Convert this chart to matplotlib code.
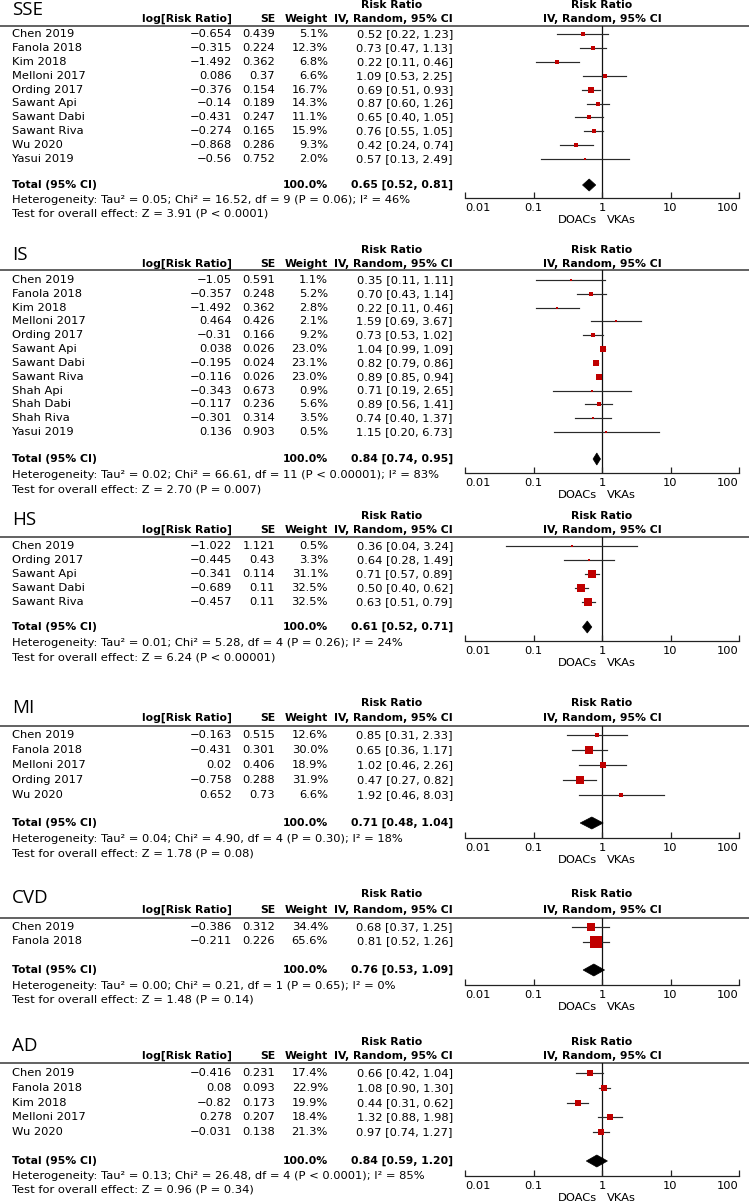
import matplotlib
matplotlib.use("Agg")
import matplotlib.pyplot as plt
from matplotlib.patches import Polygon

W, H, DPI = 749, 1203, 100

# ---------------- data ----------------
sse_names = ["Chen 2019", "Fanola 2018", "Kim 2018", "Melloni 2017", "Ording 2017",
             "Sawant Api", "Sawant Dabi", "Sawant Riva", "Wu 2020", "Yasui 2019"]
sse_logrr = [-0.654, -0.315, -1.492, 0.086, -0.376, -0.14, -0.431, -0.274, -0.868, -0.56]
sse_se = [0.439, 0.224, 0.362, 0.37, 0.154, 0.189, 0.247, 0.165, 0.286, 0.752]
sse_weight = [5.1, 12.3, 6.8, 6.6, 16.7, 14.3, 11.1, 15.9, 9.3, 2.0]
sse_rr = [0.52, 0.73, 0.22, 1.09, 0.69, 0.87, 0.65, 0.76, 0.42, 0.57]
sse_lo = [0.22, 0.47, 0.11, 0.53, 0.51, 0.60, 0.40, 0.55, 0.24, 0.13]
sse_hi = [1.23, 1.13, 0.46, 2.25, 0.93, 1.26, 1.05, 1.05, 0.74, 2.49]
sse_total = [0.65, 0.52, 0.81]
sse_het = "Heterogeneity: Tau² = 0.05; Chi² = 16.52, df = 9 (P = 0.06); I² = 46%"
sse_test = "Test for overall effect: Z = 3.91 (P < 0.0001)"

is_names = ["Chen 2019", "Fanola 2018", "Kim 2018", "Melloni 2017", "Ording 2017",
            "Sawant Api", "Sawant Dabi", "Sawant Riva", "Shah Api", "Shah Dabi",
            "Shah Riva", "Yasui 2019"]
is_logrr = [-1.05, -0.357, -1.492, 0.464, -0.31, 0.038, -0.195, -0.116, -0.343, -0.117, -0.301, 0.136]
is_se = [0.591, 0.248, 0.362, 0.426, 0.166, 0.026, 0.024, 0.026, 0.673, 0.236, 0.314, 0.903]
is_weight = [1.1, 5.2, 2.8, 2.1, 9.2, 23.0, 23.1, 23.0, 0.9, 5.6, 3.5, 0.5]
is_rr = [0.35, 0.70, 0.22, 1.59, 0.73, 1.04, 0.82, 0.89, 0.71, 0.89, 0.74, 1.15]
is_lo = [0.11, 0.43, 0.11, 0.69, 0.53, 0.99, 0.79, 0.85, 0.19, 0.56, 0.40, 0.20]
is_hi = [1.11, 1.14, 0.46, 3.67, 1.02, 1.09, 0.86, 0.94, 2.65, 1.41, 1.37, 6.73]
is_total = [0.84, 0.74, 0.95]
is_het = "Heterogeneity: Tau² = 0.02; Chi² = 66.61, df = 11 (P < 0.00001); I² = 83%"
is_test = "Test for overall effect: Z = 2.70 (P = 0.007)"

hs_names = ["Chen 2019", "Ording 2017", "Sawant Api", "Sawant Dabi", "Sawant Riva"]
hs_logrr = [-1.022, -0.445, -0.341, -0.689, -0.457]
hs_se = [1.121, 0.43, 0.114, 0.11, 0.11]
hs_weight = [0.5, 3.3, 31.1, 32.5, 32.5]
hs_rr = [0.36, 0.64, 0.71, 0.50, 0.63]
hs_lo = [0.04, 0.28, 0.57, 0.40, 0.51]
hs_hi = [3.24, 1.49, 0.89, 0.62, 0.79]
hs_total = [0.61, 0.52, 0.71]
hs_het = "Heterogeneity: Tau² = 0.01; Chi² = 5.28, df = 4 (P = 0.26); I² = 24%"
hs_test = "Test for overall effect: Z = 6.24 (P < 0.00001)"

mi_names = ["Chen 2019", "Fanola 2018", "Melloni 2017", "Ording 2017", "Wu 2020"]
mi_logrr = [-0.163, -0.431, 0.02, -0.758, 0.652]
mi_se = [0.515, 0.301, 0.406, 0.288, 0.73]
mi_weight = [12.6, 30.0, 18.9, 31.9, 6.6]
mi_rr = [0.85, 0.65, 1.02, 0.47, 1.92]
mi_lo = [0.31, 0.36, 0.46, 0.27, 0.46]
mi_hi = [2.33, 1.17, 2.26, 0.82, 8.03]
mi_total = [0.71, 0.48, 1.04]
mi_het = "Heterogeneity: Tau² = 0.04; Chi² = 4.90, df = 4 (P = 0.30); I² = 18%"
mi_test = "Test for overall effect: Z = 1.78 (P = 0.08)"

cvd_names = ["Chen 2019", "Fanola 2018"]
cvd_logrr = [-0.386, -0.211]
cvd_se = [0.312, 0.226]
cvd_weight = [34.4, 65.6]
cvd_rr = [0.68, 0.81]
cvd_lo = [0.37, 0.52]
cvd_hi = [1.25, 1.26]
cvd_total = [0.76, 0.53, 1.09]
cvd_het = "Heterogeneity: Tau² = 0.00; Chi² = 0.21, df = 1 (P = 0.65); I² = 0%"
cvd_test = "Test for overall effect: Z = 1.48 (P = 0.14)"

ad_names = ["Chen 2019", "Fanola 2018", "Kim 2018", "Melloni 2017", "Wu 2020"]
ad_logrr = [-0.416, 0.08, -0.82, 0.278, -0.031]
ad_se = [0.231, 0.093, 0.173, 0.207, 0.138]
ad_weight = [17.4, 22.9, 19.9, 18.4, 21.3]
ad_rr = [0.66, 1.08, 0.44, 1.32, 0.97]
ad_lo = [0.42, 0.90, 0.31, 0.88, 0.74]
ad_hi = [1.04, 1.30, 0.62, 1.98, 1.27]
ad_total = [0.84, 0.59, 1.20]
ad_het = "Heterogeneity: Tau² = 0.13; Chi² = 26.48, df = 4 (P < 0.0001); I² = 85%"
ad_test = "Test for overall effect: Z = 0.96 (P = 0.34)"

titles = ["SSE", "IS", "HS", "MI", "CVD", "AD"]
axis_ticks = [0.01, 0.1, 1, 10, 100]
axis_ticklabels = ["0.01", "0.1", "1", "10", "100"]
favours = ["DOACs", "VKAs"]

panels = [
    (sse_names, sse_logrr, sse_se, sse_weight, sse_rr, sse_lo, sse_hi, sse_total, sse_het, sse_test),
    (is_names, is_logrr, is_se, is_weight, is_rr, is_lo, is_hi, is_total, is_het, is_test),
    (hs_names, hs_logrr, hs_se, hs_weight, hs_rr, hs_lo, hs_hi, hs_total, hs_het, hs_test),
    (mi_names, mi_logrr, mi_se, mi_weight, mi_rr, mi_lo, mi_hi, mi_total, mi_het, mi_test),
    (cvd_names, cvd_logrr, cvd_se, cvd_weight, cvd_rr, cvd_lo, cvd_hi, cvd_total, cvd_het, cvd_test),
    (ad_names, ad_logrr, ad_se, ad_weight, ad_rr, ad_lo, ad_hi, ad_total, ad_het, ad_test),
]

# ---------------- layout (pixels) ----------------
# title_y, head1_y, head2_y, hline_y, row0_y, row_step, total_y, het_y, test_y, axis_y
layout = [
    (10, 5, 19, 26, 34, 13.9, 185, 200, 214, 198),
    (255, 250, 264, 270, 280, 13.82, 459, 475, 489, 473),
    (520, 516, 530, 537, 546, 13.9, 627, 643, 657, 641),
    (708, 703, 718, 726, 735, 15.0, 823, 839, 854, 838),
    (898, 894, 910, 918, 927, 14.5, 970, 986, 1000, 985),
    (1046, 1042, 1056, 1063, 1073, 14.8, 1161, 1176, 1190, 1176),
]

X_NAME = 12
X_LOG = 232
X_SE = 275
X_W = 328
X_CI = 453
X_RRHEAD = 392
PX0, PX1 = 465, 739  # forest plot x extent in pixels
X_ONE = 602

FS = 8.25
FAM = ["DejaVu Sans"]
BFS = 7.8
RED = "#c00000"

fig = plt.figure(figsize=(W / DPI, H / DPI), dpi=DPI)
fig.patch.set_facecolor("white")
bg = fig.add_axes([0, 0, 1, 1])
bg.set_xlim(0, W)
bg.set_ylim(H, 0)
bg.axis("off")


def fmt_num(v):
    return f"{v:g}".replace("-", "\u2212")


for title, data, lay in zip(titles, panels, layout):
    names, logrr, se, weight, rr, lo, hi, total, het, test = data
    t_y, h1, h2, hl, r0, step, tot_y, het_y, test_y, ax_y = lay

    bg.text(X_NAME, t_y, title, fontsize=13.5, family=["Open Sans", "DejaVu Sans"],
            ha="left", va="center")
    bold = dict(fontsize=BFS, family=FAM, fontweight="bold", va="center")
    bg.text(X_RRHEAD, h1, "Risk Ratio", ha="center", **bold)
    bg.text(X_ONE, h1, "Risk Ratio", ha="center", **bold)
    bg.text(X_LOG, h2, "log[Risk Ratio]", ha="right", **bold)
    bg.text(X_SE, h2, "SE", ha="right", **bold)
    bg.text(X_W, h2, "Weight", ha="right", **bold)
    bg.text(X_CI, h2, "IV, Random, 95% CI", ha="right", **bold)
    bg.text(X_ONE, h2, "IV, Random, 95% CI", ha="center", **bold)
    bg.plot([0, W], [hl, hl], color="#555555", lw=1.3, solid_capstyle="butt")

    norm = dict(fontsize=FS, family=FAM, va="center")
    ys = [r0 + i * step for i in range(len(names))]
    for y, n, lr, s, w, r, l, h in zip(ys, names, logrr, se, weight, rr, lo, hi):
        bg.text(X_NAME, y, n, ha="left", **norm)
        bg.text(X_LOG, y, fmt_num(lr), ha="right", **norm)
        bg.text(X_SE, y, fmt_num(s), ha="right", **norm)
        bg.text(X_W, y, f"{w:.1f}%", ha="right", **norm)
        bg.text(X_CI, y, f"{r:.2f} [{l:.2f}, {h:.2f}]", ha="right", **norm)

    bg.text(X_NAME, tot_y, "Total (95% CI)", ha="left", **bold)
    bg.text(X_W, tot_y, "100.0%", ha="right", **bold)
    bg.text(X_CI, tot_y, f"{total[0]:.2f} [{total[1]:.2f}, {total[2]:.2f}]", ha="right", **bold)
    bg.text(X_NAME, het_y, het, ha="left", **norm)
    bg.text(X_NAME, test_y, test, ha="left", **norm)

    # forest plot axes: y data == pixel rows
    ax = fig.add_axes([PX0 / W, 1 - ax_y / H, (PX1 - PX0) / W, (ax_y - hl) / H])
    ax.patch.set_alpha(0)
    ax.set_xscale("log")
    ax.set_xlim(axis_ticks[0], axis_ticks[-1])
    ax.set_ylim(ax_y, hl)
    for sp in ["top", "left", "right"]:
        ax.spines[sp].set_visible(False)
    ax.spines["bottom"].set_linewidth(0.9)
    ax.spines["bottom"].set_color("#222222")
    ax.set_yticks([])
    ax.set_xticks(axis_ticks)
    ax.xaxis.set_minor_locator(matplotlib.ticker.NullLocator())
    ax.set_xticklabels([])
    ax.tick_params(axis="x", direction="in", length=4, width=0.9, color="#222222")
    ax.axvline(1, color="#111111", lw=0.9, zorder=1)

    for y, w, r, l, h in zip(ys, weight, rr, lo, hi):
        ax.plot([l, h], [y, y], color="#2a2a2a", lw=0.85, zorder=2, clip_on=False)
        side = 2.4 + 0.16 * w
        ax.plot([r], [y], marker="s", ms=side * 72 / DPI, color=RED, mec=RED,
                mew=0, zorder=3, clip_on=False)

    dh = 6
    diamond = Polygon([(total[1], tot_y), (total[0], tot_y - dh),
                       (total[2], tot_y), (total[0], tot_y + dh)],
                      closed=True, facecolor="black", edgecolor="black", lw=0.5,
                      zorder=4, clip_on=False)
    ax.add_patch(diamond)

    lab_y = ax_y + 10
    for i, (tv, tl) in enumerate(zip(axis_ticks, axis_ticklabels)):
        ha = "left" if i == 0 else ("right" if i == len(axis_ticks) - 1 else "center")
        ax.text(tv, lab_y, tl, ha=ha, va="center", fontsize=FS, family=FAM, clip_on=False)
    bg.text(X_ONE - 5, ax_y + 22, favours[0], ha="right", va="center", fontsize=FS, family=FAM)
    bg.text(X_ONE + 5, ax_y + 22, favours[1], ha="left", va="center", fontsize=FS, family=FAM)

fig.savefig("out.png", dpi=DPI)
